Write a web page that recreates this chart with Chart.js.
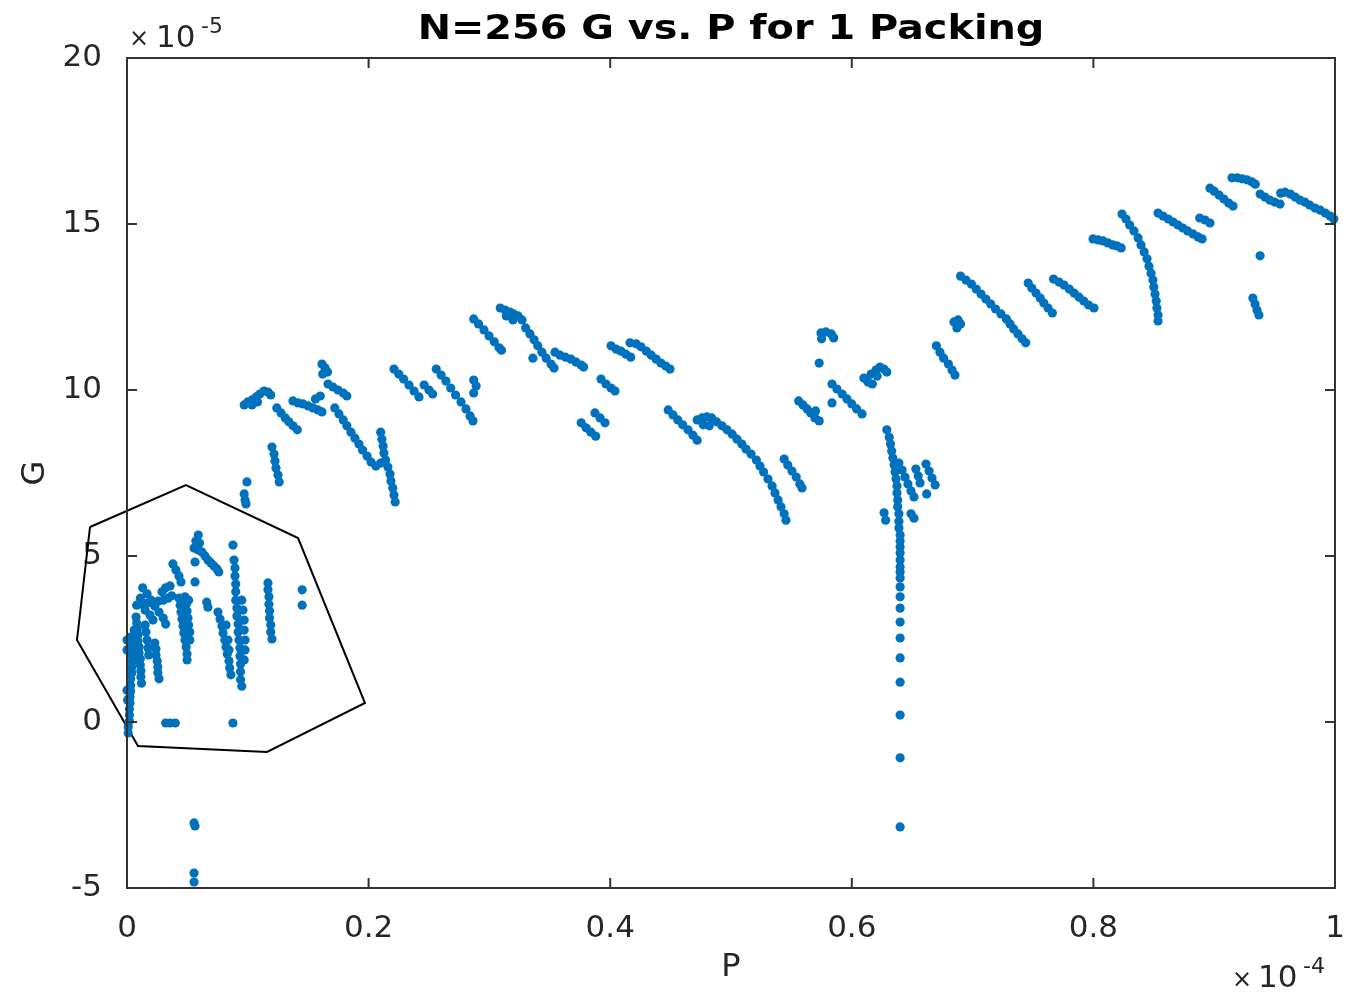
<!DOCTYPE html>
<html lang="en">
<head>
    <meta charset="UTF-8">
    <title>N=256 G vs. P for 1 Packing</title>
    <style>
        body {
            margin: 0;
            background-color: #fff;
        }
        #gpChart {
            display: block;
        }
    </style>
</head>
<body>
    <canvas id="gpChart" width="1348" height="993"></canvas>

    <script src="https://cdn.jsdelivr.net/npm/chart.js"></script>
    <script>
        // values as plotted: P in units of 1e-4, G in units of 1e-5, [P, G]
        const lowCluster = [
            [0.001,-0.33],[0.001,-0.15],[0.002,0.03],[0.002,0.21],[0.002,0.39],[0.0025,0.57],[0.0025,0.75],[0.003,0.93],[0.003,1.11],[0.003,1.30],[0.004,1.48],[0.004,1.66],[0.004,1.84],[0.004,2.02],[0.004,2.20],[0.003,2.38],[0.003,2.56],
            [0.000,2.17],[0.000,2.47],[0.000,0.96],[0.0005,0.66],
            [0.0075,3.16],[0.008,2.98],[0.0085,2.80],[0.009,2.62],[0.009,2.44],[0.010,2.26],[0.010,2.08],[0.011,1.90],[0.011,1.72],[0.0115,1.54],[0.0115,1.36],[0.012,1.17],
            [0.006,2.77],[0.006,2.47],[0.0065,2.17],[0.0065,1.87],
            [0.015,2.92],[0.0157,2.71],[0.0166,2.47],[0.0174,2.23],[0.018,2.02],
            [0.023,2.38],[0.024,2.20],[0.024,2.02],[0.025,1.84],[0.0255,1.66],[0.0255,1.48],[0.0265,1.30],
            [0.013,4.04],[0.0166,3.86],[0.020,3.67],[0.023,3.49],[0.0265,3.31],[0.030,3.13],[0.032,2.95],
            [0.008,3.52],[0.0124,3.55],[0.0166,3.58],[0.021,3.61],[0.0257,3.64],[0.030,3.67],[0.034,3.73],[0.037,3.80],
            [0.029,3.92],[0.032,4.04],[0.0356,4.10],[0.011,3.73],[0.015,3.37],[0.019,3.22],[0.0215,3.07],
            [0.038,4.76],[0.0405,4.58],[0.043,4.40],[0.0447,4.22],
            [0.043,3.73],[0.044,3.52],[0.0447,3.31],[0.0455,3.10],[0.0464,2.89],[0.047,2.68],[0.048,2.47],[0.049,2.26],[0.0497,2.05],[0.0497,1.87],
            [0.048,3.77],[0.049,3.55],[0.0497,3.34],[0.0505,3.13],[0.051,2.92],[0.052,2.71],[0.052,2.47],[0.0464,3.49],[0.051,3.67],
            [0.059,5.63],[0.057,5.45],[0.060,5.39],[0.0555,5.24],[0.059,5.18],[0.062,5.12],[0.0646,5.00],[0.067,4.88],[0.0695,4.79],[0.072,4.70],[0.0745,4.61],[0.076,4.52],[0.0563,4.82],[0.0563,4.22],[0.066,3.61],[0.067,3.46],
            [0.0753,3.31],[0.077,3.10],[0.0786,2.89],[0.0795,2.68],[0.081,2.47],[0.082,2.26],[0.083,2.05],[0.0844,1.84],[0.085,1.63],[0.086,1.42],[0.082,2.92],[0.0836,2.47],[0.0844,2.17],
            [0.0877,5.33],[0.0886,4.88],[0.0894,4.64],[0.0894,4.40],[0.090,4.16],[0.090,3.92],[0.090,3.67],[0.091,3.43],[0.091,3.19],[0.092,2.95],[0.092,2.71],[0.0927,2.47],[0.0935,2.23],[0.0935,1.99],[0.094,1.75],[0.094,1.51],[0.094,1.27],[0.095,1.08],
            [0.095,3.67],[0.096,3.37],[0.097,3.07],[0.097,2.77],[0.0977,2.47],[0.0977,2.17],[0.097,1.87],
            [0.1167,4.19],[0.1167,3.98],[0.1175,3.77],[0.1175,3.55],[0.118,3.34],[0.118,3.13],[0.119,2.92],[0.119,2.71],[0.120,2.50],
            [0.145,3.98],[0.145,3.52],
            [0.032,-0.03],[0.0356,-0.03],[0.040,-0.03],[0.0877,-0.03],
            [0.0555,-3.04],[0.0563,-3.13],[0.0555,-4.55],[0.0555,-4.82]
        ];

        const midCluster = [
            [0.0993,7.23],[0.097,6.87],[0.0977,6.69],[0.0985,6.57],
            [0.120,8.28],[0.1217,8.07],[0.1225,7.86],[0.1233,7.65],[0.125,7.44],[0.126,7.23],
            [0.097,9.55],[0.100,9.64],[0.1035,9.70],[0.107,9.79],[0.110,9.88],[0.1134,9.97],[0.1167,9.94],[0.119,9.85],[0.1035,9.55],[0.108,9.64],
            [0.124,9.46],[0.1275,9.31],[0.131,9.16],[0.134,9.04],[0.1374,8.92],[0.141,8.80],
            [0.1374,9.67],[0.1416,9.61],[0.1457,9.58],[0.150,9.52],[0.154,9.46],[0.158,9.40],[0.1614,9.34],[0.156,9.73],[0.160,9.82],
            [0.1614,10.78],[0.164,10.66],[0.162,10.48],[0.166,10.54],
            [0.1664,10.18],[0.1705,10.09],[0.1747,10.00],[0.179,9.91],[0.182,9.82],
            [0.172,9.46],[0.1755,9.28],[0.179,9.10],[0.182,8.92],[0.1854,8.73],[0.1887,8.55],[0.192,8.37],[0.195,8.19],[0.1987,8.01],[0.202,7.83],[0.206,7.71],[0.210,7.80],
            [0.210,8.73],[0.211,8.52],[0.212,8.31],[0.2127,8.10],[0.214,7.89],[0.216,7.68],[0.2177,7.47],[0.2185,7.26],[0.220,7.05],[0.221,6.84],[0.222,6.63],
            [0.221,10.63],[0.225,10.48],[0.229,10.33],[0.2334,10.15],[0.2376,9.97],[0.2417,9.79],
            [0.246,10.15],[0.250,10.00],[0.253,9.88],
            [0.256,10.63],[0.260,10.45],[0.264,10.27],[0.268,10.06],[0.272,9.85],[0.2765,9.64],[0.2806,9.43],[0.284,9.22],[0.2864,9.07],
            [0.287,10.30],[0.289,10.12],[0.287,9.91]
        ];

        const upperCluster = [
            [0.287,12.14],[0.291,11.99],[0.2955,11.81],[0.2997,11.63],[0.304,11.45],[0.308,11.27],[0.310,11.20],
            [0.309,12.47],[0.313,12.41],[0.317,12.35],[0.320,12.29],[0.3237,12.23],[0.327,12.11],[0.3195,12.11],[0.314,12.23],
            [0.330,11.87],[0.3336,11.69],[0.337,11.51],[0.340,11.33],[0.3435,11.14],[0.347,10.96],[0.351,10.78],[0.3535,10.66],
            [0.3543,11.14],[0.3585,11.05],[0.363,10.99],[0.3675,10.93],[0.3717,10.84],[0.376,10.75],[0.378,10.69],
            [0.336,10.96],
            [0.3924,10.33],[0.3965,10.18],[0.4007,10.06],[0.404,9.97],
            [0.376,9.01],[0.380,8.86],[0.384,8.73],[0.388,8.61],[0.3874,9.31],[0.3916,9.16],[0.3957,9.01],
            [0.4007,11.33],[0.405,11.23],[0.409,11.17],[0.413,11.08],[0.417,10.99],
            [0.4164,11.42],[0.4214,11.39],[0.4255,11.30],[0.430,11.17],[0.434,11.05],[0.438,10.93],[0.442,10.81],[0.446,10.72],[0.4495,10.63],
            [0.448,9.40],[0.452,9.25],[0.456,9.10],[0.460,8.95],[0.4644,8.80],[0.4685,8.64],[0.472,8.49],
            [0.472,9.10],[0.476,9.16],[0.480,9.19],[0.484,9.16],[0.477,8.95],[0.482,8.92],
            [0.488,9.04],[0.4925,8.92],[0.4967,8.80],[0.501,8.67],[0.505,8.52],[0.509,8.37],[0.5124,8.22],[0.5166,8.07],[0.521,7.89],[0.524,7.71],[0.527,7.53],[0.5306,7.32],[0.534,7.11],[0.5364,6.90],[0.539,6.69],[0.5414,6.48],[0.544,6.27],[0.5455,6.08],
            [0.544,7.92],[0.547,7.74],[0.5505,7.56],[0.554,7.38],[0.557,7.17],[0.5588,7.05]
        ];

        const dropCluster = [
            [0.556,9.67],[0.5596,9.55],[0.563,9.43],[0.566,9.31],[0.5695,9.16],[0.573,9.07],[0.570,9.37],
            [0.5745,11.72],[0.5786,11.75],[0.583,11.69],[0.585,11.57],[0.575,11.54],
            [0.573,10.81],
            [0.5836,10.18],[0.5877,10.03],[0.592,9.88],[0.596,9.73],[0.600,9.58],[0.604,9.43],[0.6085,9.28],
            [0.5836,9.61],
            [0.610,10.36],[0.6134,10.24],[0.617,10.18],[0.616,10.48],[0.620,10.60],[0.6233,10.69],[0.6267,10.63],[0.629,10.54],[0.621,10.42],
            [0.629,8.80],[0.631,8.58],[0.632,8.37],[0.633,8.16],[0.634,7.95],[0.635,7.74],[0.6358,7.53],[0.6366,7.32],[0.6374,7.11],[0.6374,6.90],[0.638,6.69],[0.638,6.48],[0.639,6.27],[0.639,6.05],[0.639,5.84],[0.640,5.63],[0.640,5.45],
            [0.640,5.27],[0.640,5.09],[0.640,4.88],[0.640,4.67],[0.640,4.52],[0.640,4.34],[0.640,4.07],[0.640,3.77],[0.640,3.43],[0.640,3.01],[0.640,2.53],[0.640,1.93],[0.640,1.20],[0.640,0.21],[0.640,-1.08],[0.640,-3.16],
            [0.6267,6.30],[0.628,6.08],
            [0.639,7.80],[0.6416,7.59],[0.644,7.38],[0.6465,7.17],[0.649,6.96],[0.6515,6.78],
            [0.653,7.62],[0.655,7.41],[0.6565,7.20],
            [0.6614,7.77],[0.664,7.56],[0.6664,7.35],[0.669,7.14],[0.662,6.87],
            [0.649,6.27],[0.6515,6.14],
            [0.670,11.33],[0.673,11.14],[0.676,10.96],[0.680,10.78],[0.683,10.60],[0.6854,10.45],
            [0.6846,12.05],[0.688,12.11],[0.690,11.99],[0.687,11.87]
        ];

        const highCluster = [
            [0.690,13.43],[0.6945,13.31],[0.699,13.19],[0.703,13.04],[0.707,12.89],[0.711,12.74],[0.715,12.59],[0.719,12.44],[0.7235,12.29],[0.728,12.14],[0.731,11.99],[0.734,11.84],[0.7376,11.69],[0.741,11.54],[0.744,11.42],
            [0.746,13.22],[0.749,13.07],[0.7525,12.92],[0.756,12.77],[0.759,12.62],[0.7624,12.47],[0.766,12.32],
            [0.767,13.34],[0.7715,13.25],[0.7757,13.16],[0.780,13.04],[0.784,12.92],[0.788,12.80],[0.792,12.68],[0.796,12.56],[0.8005,12.47],
            [0.7997,14.55],[0.804,14.52],[0.808,14.49],[0.812,14.43],[0.816,14.37],[0.8195,14.34],[0.823,14.28],
            [0.8237,15.30],[0.827,15.15],[0.830,14.97],[0.8336,14.79],[0.837,14.58],[0.8394,14.37],[0.842,14.16],[0.8444,13.95],[0.846,13.73],[0.8477,13.52],[0.8493,13.31],[0.850,13.10],[0.851,12.89],[0.852,12.68],[0.8526,12.47],[0.8535,12.26],[0.8535,12.08],
            [0.8535,15.33],[0.8576,15.24],[0.862,15.15],[0.866,15.06],[0.870,14.97],[0.874,14.88],[0.878,14.79],[0.8825,14.70],[0.8866,14.61],[0.890,14.55],
            [0.888,15.18],[0.8924,15.12],[0.8965,15.03],
            [0.8965,16.08],[0.900,15.99],[0.904,15.87],[0.908,15.75],[0.912,15.63],[0.9156,15.54],
            [0.9147,16.39],[0.919,16.39],[0.923,16.36],[0.927,16.33],[0.931,16.27],[0.934,16.20],
            [0.938,15.90],[0.942,15.81],[0.946,15.72],[0.950,15.66],[0.9545,15.60],
            [0.955,15.93],[0.9586,15.96],[0.963,15.90],[0.967,15.81],[0.971,15.72],[0.975,15.66],[0.979,15.57],[0.9834,15.48],[0.9876,15.42],[0.992,15.33],[0.996,15.24],[0.999,15.15],
            [0.938,14.04],
            [0.932,12.77],[0.9338,12.59],[0.9354,12.41],[0.937,12.26]
        ];

        // hand-drawn outline around the low-P cluster
        const outline = [
            [-0.0306,5.874],[0.0488,7.139],[0.1416,5.542],[0.1970,0.572],[0.1159,-0.904],[0.0091,-0.723],[-0.0414,2.470],[-0.0306,5.874]
        ];

        const xTicks = [0, 0.2, 0.4, 0.6, 0.8, 1];
        const xTickLabels = ['0', '0.2', '0.4', '0.6', '0.8', '1'];
        const yTicks = [-5, 0, 5, 10, 15, 20];
        const yTickLabels = ['-5', '0', '5', '10', '15', '20'];

        const toXY = arr => arr.map(p => ({ x: p[0], y: p[1] }));
        const allPoints = [].concat(lowCluster, midCluster, upperCluster, dropCluster, highCluster);

        const textColor = '#262626';
        const fontFamily = "'DejaVu Sans', sans-serif";

        // white background, box with inward ticks, title and exponent labels
        const framePlugin = {
            id: 'frame',
            beforeDraw(chart) {
                const c = chart.ctx;
                c.save();
                c.fillStyle = '#fff';
                c.fillRect(0, 0, chart.width, chart.height);
                c.restore();
            },
            afterDraw(chart) {
                const c = chart.ctx;
                const a = chart.chartArea;
                const xs = chart.scales.x, ys = chart.scales.y;
                const tl = 10;
                c.save();
                c.strokeStyle = '#333';
                c.lineWidth = 2;
                c.strokeRect(a.left, a.top, a.right - a.left, a.bottom - a.top);
                c.beginPath();
                xTicks.forEach(v => {
                    const px = xs.getPixelForValue(v);
                    c.moveTo(px, a.bottom); c.lineTo(px, a.bottom - tl);
                    c.moveTo(px, a.top); c.lineTo(px, a.top + tl);
                });
                yTicks.forEach(v => {
                    const py = ys.getPixelForValue(v);
                    c.moveTo(a.left, py); c.lineTo(a.left + tl, py);
                    c.moveTo(a.right, py); c.lineTo(a.right - tl, py);
                });
                c.stroke();

                // title
                c.fillStyle = '#000';
                c.textAlign = 'center';
                c.textBaseline = 'alphabetic';
                c.font = "bold 34px " + fontFamily;
                c.save();
                c.translate((a.left + a.right) / 2, 39);
                c.scale(1.17, 1);
                c.fillText('N=256 G vs. P for 1 Packing', 0, 0);
                c.restore();

                // exponent labels
                c.fillStyle = textColor;
                c.textAlign = 'left';
                c.font = "24px " + fontFamily;
                c.fillText('\u00d7', 129, 46);
                c.font = "31px " + fontFamily;
                c.fillText('10', 156, 47);
                c.font = "22px " + fontFamily;
                c.fillText('-5', 201, 33);

                c.font = "24px " + fontFamily;
                c.fillText('\u00d7', 1232, 987);
                c.font = "31px " + fontFamily;
                c.fillText('10', 1258, 987);
                c.font = "22px " + fontFamily;
                c.fillText('-4', 1303, 973);
                c.restore();
            }
        };

        const ctx = document.getElementById('gpChart').getContext('2d');
        new Chart(ctx, {
            type: 'scatter',
            data: {
                datasets: [{
                    data: toXY(allPoints),
                    backgroundColor: '#0072BD',
                    borderWidth: 0,
                    pointRadius: 4.6,
                    pointHoverRadius: 4.6,
                    clip: false
                }, {
                    data: toXY(outline),
                    showLine: true,
                    borderColor: '#000',
                    borderWidth: 2,
                    pointRadius: 0,
                    fill: false,
                    tension: 0,
                    clip: false
                }]
            },
            options: {
                responsive: false,
                animation: false,
                devicePixelRatio: 1,
                layout: { padding: { top: 58, right: 13, left: 0, bottom: 0 } },
                plugins: {
                    legend: { display: false },
                    tooltip: { enabled: false },
                    title: { display: false }
                },
                scales: {
                    x: {
                        type: 'linear',
                        min: 0,
                        max: 1,
                        afterBuildTicks(scale) {
                            scale.ticks = xTicks.map(v => ({ value: v }));
                        },
                        ticks: {
                            padding: 14,
                            color: textColor,
                            font: { family: fontFamily, size: 31 },
                            maxRotation: 0,
                            callback: (v) => xTickLabels[xTicks.indexOf(v)]
                        },
                        grid: { display: false },
                        border: { display: false },
                        title: {
                            display: true,
                            text: 'P',
                            color: textColor,
                            font: { family: fontFamily, size: 32 },
                            padding: { top: 0, bottom: 6 }
                        },
                        afterFit(scale) {
                            scale.height = 105;
                            scale.paddingLeft = 0;
                            scale.paddingRight = 0;
                        }
                    },
                    y: {
                        type: 'linear',
                        min: -5,
                        max: 20,
                        afterBuildTicks(scale) {
                            scale.ticks = yTicks.map(v => ({ value: v }));
                        },
                        ticks: {
                            padding: 17,
                            color: textColor,
                            font: { family: fontFamily, size: 31 },
                            callback: (v) => yTickLabels[yTicks.indexOf(v)]
                        },
                        grid: { display: false },
                        border: { display: false },
                        title: {
                            display: true,
                            text: 'G',
                            color: textColor,
                            font: { family: fontFamily, size: 32 },
                            padding: { top: 16, bottom: 0 }
                        },
                        afterFit(scale) {
                            scale.width = 127;
                            scale.paddingTop = 0;
                            scale.paddingBottom = 0;
                        }
                    }
                }
            },
            plugins: [framePlugin]
        });
    </script>
</body>
</html>
